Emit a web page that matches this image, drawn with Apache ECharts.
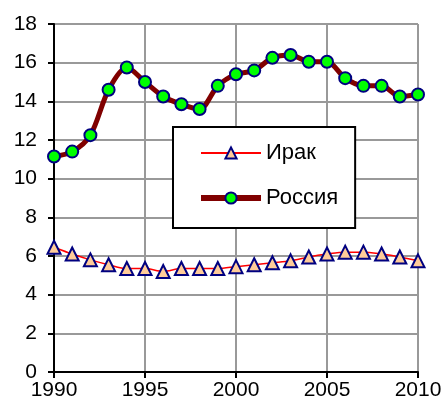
<!DOCTYPE html>
<html>
<head>
<meta charset="utf-8">
<script src="https://cdn.jsdelivr.net/npm/echarts@6/dist/echarts.min.js"></script>
<style>
  html, body { margin: 0; padding: 0; background: #fff; }
  #chart { width: 446px; height: 407px; }
</style>
</head>
<body>
<div id="chart"></div>
<script>
// данные с графика
const years = [1990, 1991, 1992, 1993, 1994, 1995, 1996, 1997, 1998, 1999, 2000,
  2001, 2002, 2003, 2004, 2005, 2006, 2007, 2008, 2009, 2010]
const iraq = [6.45, 6.1, 5.8, 5.55, 5.35, 5.35, 5.2, 5.35, 5.35, 5.35, 5.45,
  5.55, 5.65, 5.75, 5.95, 6.1, 6.2, 6.2, 6.1, 5.95, 5.75]
const russia = [11.15, 11.4, 12.25, 14.6, 15.75, 15.0, 14.25, 13.85, 13.6, 14.8, 15.4,
  15.6, 16.25, 16.4, 16.05, 16.05, 15.2, 14.8, 14.8, 14.25, 14.35]
const xTicks = [1990, 1995, 2000, 2005, 2010]
const yTicks = [0, 2, 4, 6, 8, 10, 12, 14, 16, 18]

const font = "'Liberation Sans', Arial, sans-serif"
const chart = echarts.init(document.getElementById('chart'))

const option = {
  animation: false,
  textStyle: { fontFamily: font },
  grid: { left: 54, right: 28, top: 24, bottom: 35 },
  legend: {
    orient: 'vertical',
    left: 173,
    top: 127,
    padding: [14, 17, 18, 25],
    itemGap: 21,
    itemWidth: 60,
    itemHeight: 14,
    backgroundColor: '#fff',
    borderColor: '#000',
    borderWidth: 2,
    borderRadius: 0,
    textStyle: { fontFamily: font, fontSize: 22, color: '#000', lineHeight: 24 },
    data: [
      {
        name: 'Ирак',
        lineStyle: { color: '#ff0000', width: 2 },
        itemStyle: { color: '#ffcc99', borderColor: '#000080', borderWidth: 2 }
      },
      {
        name: 'Россия',
        lineStyle: { color: '#800000', width: 6 },
        itemStyle: { color: '#00ff00', borderColor: '#000080', borderWidth: 2 }
      }
    ]
  },
  xAxis: {
    type: 'value',
    min: xTicks[0],
    max: xTicks[xTicks.length - 1],
    interval: 5,
    axisLine: { show: true, lineStyle: { color: '#000', width: 2 } },
    axisTick: { show: true, inside: false, length: 6, lineStyle: { color: '#000', width: 2 } },
    axisLabel: { color: '#000', fontSize: 21, fontFamily: font, margin: 8, formatter: v => String(v) },
    splitLine: { show: true, lineStyle: { color: '#999', width: 2 } }
  },
  yAxis: {
    type: 'value',
    min: yTicks[0],
    max: yTicks[yTicks.length - 1],
    interval: 2,
    axisLine: { show: true, lineStyle: { color: '#000', width: 2 } },
    axisTick: { show: true, inside: false, length: 6, lineStyle: { color: '#000', width: 2 } },
    axisLabel: { color: '#000', fontSize: 21, fontFamily: font, margin: 17 },
    splitLine: { show: true, lineStyle: { color: '#999', width: 2 } }
  },
  series: [
    {
      name: 'Ирак',
      type: 'line',
      smooth: 0.3,
      data: years.map((y, i) => [y, iraq[i]]),
      symbol: 'triangle',
      symbolSize: 13,
      lineStyle: { color: '#ff0000', width: 1.5 },
      itemStyle: { color: '#ffcc99', borderColor: '#000080', borderWidth: 2 },
      z: 3
    },
    {
      name: 'Россия',
      type: 'line',
      smooth: 0.3,
      data: years.map((y, i) => [y, russia[i]]),
      symbol: 'circle',
      symbolSize: 12,
      lineStyle: { color: '#800000', width: 5 },
      itemStyle: { color: '#00ff00', borderColor: '#000080', borderWidth: 2 },
      z: 3
    }
  ]
}

chart.setOption(option)
</script>
</body>
</html>
